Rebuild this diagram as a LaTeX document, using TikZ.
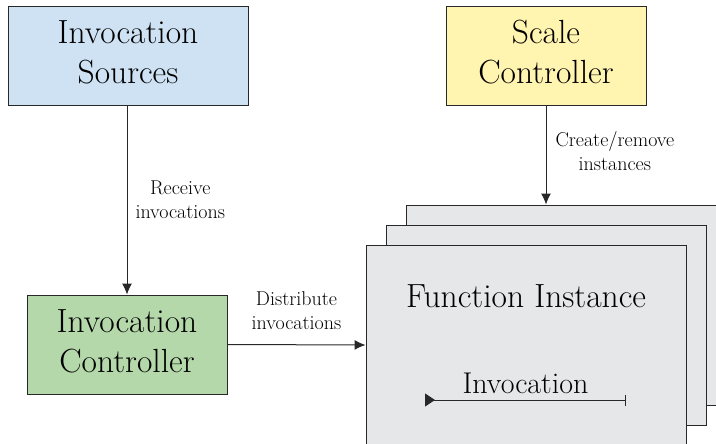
\documentclass[tikz,border=0pt]{standalone}
\usepackage{tikz}
\usetikzlibrary{arrows.meta, positioning}

\definecolor{srcblue}{RGB}{207,226,243}
\definecolor{ctrlgreen}{RGB}{180,216,170}
\definecolor{scaleyellow}{RGB}{255,244,176}
\definecolor{instgray}{RGB}{230,231,233}
\definecolor{linegray}{RGB}{40,40,40}

\tikzstyle{block}		=[rectangle, draw=linegray, line width=0.9pt, text centered, align=center, inner sep=0pt, text depth=7pt, text=black, font=\fontsize{33.5}{40}\selectfont]
\tikzstyle{source}		=[block, fill=srcblue,    minimum width=240pt, minimum height=99pt]
\tikzstyle{controller}	=[block, fill=ctrlgreen,  minimum width=200pt, minimum height=99pt]
\tikzstyle{scaler}		=[block, fill=scaleyellow, minimum width=200pt, minimum height=99pt]
\tikzstyle{instance}	=[block, fill=instgray,   minimum width=320pt, minimum height=200pt]
\tikzstyle{title}		=[text=black, inner sep=0pt, font=\fontsize{33.5}{40}\selectfont]
\tikzstyle{note}		=[text=black, align=center, inner sep=2pt, font=\fontsize{20}{24}\selectfont]
\tikzstyle{post}		=[-{Latex[length=11pt, width=10pt]}, line width=1pt, draw=linegray]
\tikzstyle{run}			=[{Triangle[reversed, length=10pt, width=13pt]}-{Bar[width=11pt, line width=1.4pt]}, line width=1pt, draw=linegray]

\begin{document}
\begin{tikzpicture}[x=1pt, y=1pt]

	\useasboundingbox (0,0) rectangle (716,-444);
	\clip (0,0) rectangle (716,-444);

	\node (Src)		[source]		at (+128.0, -55.5)		{	Invocation\\Sources		};
	\node (Scale)	[scaler]		at (+546.0, -55.5)		{	Scale\\Controller		};
	\node (Ctrl)	[controller]	at (+127.0, -344.5)		{	Invocation\\Controller	};

	% stacked function instances, back to front
	\node (Back)	[instance]		at (+566.0, -305.0)		{};
	\node (Mid)		[instance]		at (+546.0, -325.0)		{};
	\node (Front)	[instance]		at (+526.0, -345.0)		{};

	\node (FuncTitle)	[title, below=40pt of Front.north]	{Function Instance};

	\coordinate (InvStart)	at (+425.0, -400.0);
	\coordinate (InvEnd)	at (+626.0, -400.0);
	\draw[run] (InvStart) -- node[title, above=6pt, font=\fontsize{30}{36}\selectfont] {Invocation} (InvEnd);

	\draw[post] (Src.south -| Ctrl.north) -- node[note, right=6pt] {Receive\\invocations} (Ctrl.north);
	\draw[post] (Ctrl.east) -- node[note, above=13pt] {Distribute\\invocations} (Front.west);
	\draw[post] (Scale.south) -- node[note, right=7pt, yshift=4pt] {Create/remove\\instances} (Scale.south |- Back.north);

\end{tikzpicture}
\end{document}
